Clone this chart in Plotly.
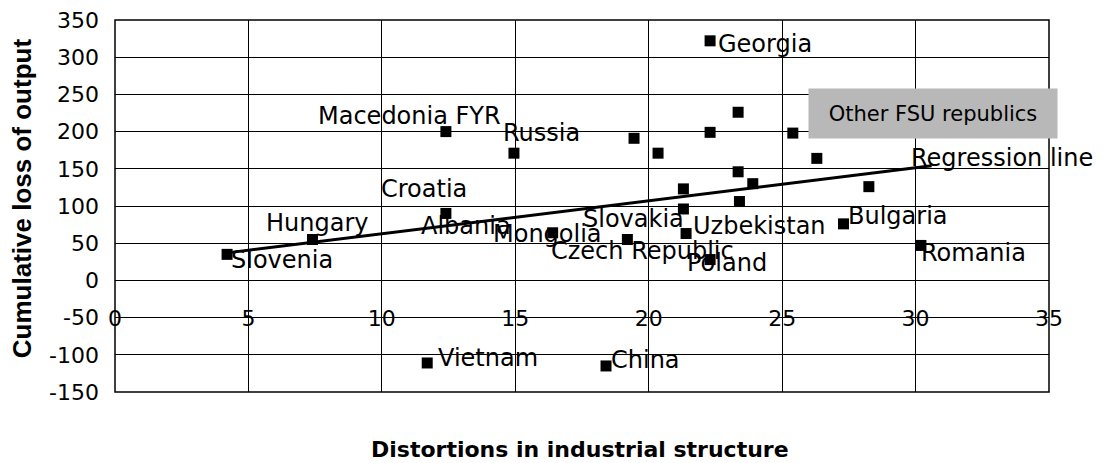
import plotly.graph_objects as go

# distortion index vs cumulative output loss
dist_x = [4.2, 7.4, 12.4, 12.4, 14.95, 16.4, 19.2, 19.45, 20.35, 21.3, 21.3, 21.4,
          22.3, 22.3, 22.3, 23.35, 23.35, 23.4, 23.9, 25.4, 26.3, 28.25, 27.3, 30.2,
          11.7, 18.4]
loss_y = [35, 55, 200, 90, 171, 64, 55, 191, 171, 123, 96, 63,
          199, 322, 28, 226, 146, 106, 130, 198, 164, 126, 76, 47,
          -111, -115]

# regression line end points
reg_x = [4.2, 30.6]
reg_y = [37, 154]

# country labels: text, anchor x, anchor y (data units)
label_text = ["Georgia", "Macedonia FYR", "Russia", "Croatia", "Hungary", "Albania",
              "Mongolia", "Slovakia", "Uzbekistan", "Czech Republic", "Poland",
              "Slovenia", "Bulgaria", "Romania", "Regression line", "Vietnam", "China"]
label_x = [22.67, 7.68, 14.61, 10.04, 5.73, 11.54, 14.24, 17.61, 21.73, 16.41, 21.5,
           4.42, 27.54, 30.27, 29.9, 12.18, 18.66]
label_y = [318, 221, 198, 123, 77, 73, 63, 83, 73, 40, 24,
           27, 87, 37, 164, -104, -107]

x_ticks = [0, 5, 10, 15, 20, 25, 30, 35]
y_ticks = [-150, -100, -50, 0, 50, 100, 150, 200, 250, 300, 350]
y_tick_text = [str(v) for v in y_ticks]

FONT = "DejaVu Sans"

fig = go.Figure()

fig.add_trace(go.Scatter(x=reg_x, y=reg_y, mode='lines',
                         line=dict(color='black', width=3), showlegend=False))
fig.add_trace(go.Scatter(x=dist_x, y=loss_y, mode='markers',
                         marker=dict(symbol='square', size=11, color='black'),
                         showlegend=False))

for t, lx, ly in zip(label_text, label_x, label_y):
    fig.add_annotation(x=lx, y=ly, text=t, showarrow=False, xanchor='left', yanchor='middle',
                       borderpad=0, xshift=-3,
                       font=dict(family=FONT, size=24, color='black'))

# grey box for the other FSU republics
fig.add_annotation(x=30.65, y=225, text="Other FSU republics", showarrow=False,
                   xanchor='center', yanchor='middle', width=246, height=47,
                   bgcolor='#b8b8b8', borderpad=1,
                   font=dict(family=FONT, size=21, color='black'))

# plot frame
fig.add_shape(type='rect', xref='paper', yref='paper', x0=0, x1=1, y0=0, y1=1,
              line=dict(color='black', width=1.5))

fig.update_xaxes(range=[0, 35], tickvals=x_ticks, showgrid=True, gridcolor='black',
                 gridwidth=1, zeroline=False, showline=False, anchor='free',
                 position=0.24, ticks='', automargin=False, ticklabeloverflow='allow',
                 tickfont=dict(family=FONT, size=22, color='black'))
fig.update_yaxes(range=[-150, 350], tickvals=y_ticks, ticktext=y_tick_text,
                 showgrid=True, gridcolor='black',
                 gridwidth=1, zeroline=False, showline=False, ticks='', automargin=False,
                 ticklabelstandoff=15, ticklabeloverflow='allow',
                 tickfont=dict(family=FONT, size=22, color='black'))

# page body adds an 8px offset, so the figure is sized to the visible window
fig.update_layout(width=1098, height=455,
                  margin=dict(l=107, r=57, t=12, b=71),
                  paper_bgcolor='white', plot_bgcolor='white')

fig.add_annotation(text='<b>Cumulative loss of output</b>', xref='paper', yref='paper',
                   x=-0.1, y=0.52, textangle=-90, showarrow=False,
                   xanchor='center', yanchor='middle',
                   font=dict(family='Liberation Sans', size=26, color='black'))

fig.add_annotation(text='<b>Distortions in industrial structure</b>', xref='paper', yref='paper',
                   x=0.498, y=-0.155, yanchor='middle', showarrow=False,
                   font=dict(family=FONT, size=22, color='black'))

fig.write_html("out.html")
